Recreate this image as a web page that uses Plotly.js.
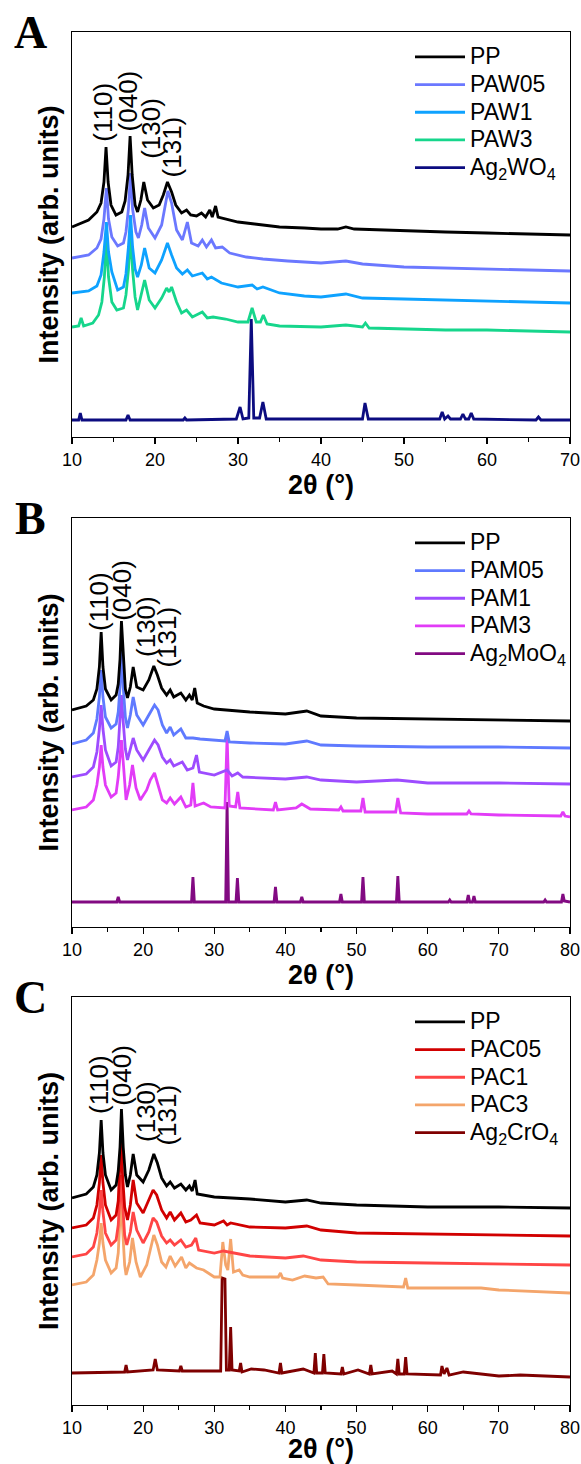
<!DOCTYPE html>
<html>
<head>
<meta charset="utf-8">
<script src="https://cdn.plot.ly/plotly-3.0.1.min.js"></script>
<style>html,body{margin:0;padding:0;background:#fff;}#chart{width:581px;height:1464px;}</style>
</head>
<body>
<div id="chart"></div>
<script>
// ---------------- Panel A (Ag2WO4 series), 2θ 10–70 ----------------
const A_PP_x = [10,12,13,13.5,13.85,14.1,14.35,14.7,15.3,16,16.4,16.75,17.0,17.25,17.6,17.9,18.3,18.65,19.1,19.8,20.5,21.0,21.5,22.0,22.5,23.2,23.8,24.3,25.0,25.6,26.1,26.6,26.9,27.3,27.6,28.5,30,32,35,38,40,42,43,44,47,50,55,60,65,70];
const A_PP_y = [210,217,225,234,255,290,255,232,222,225,236,262,301,262,232,225,237,255,237,229,232,242,255,245,232,224,227,222,221,224,220,227,220,231,220,218,215,213,210,209,208,208,210,208,207,206,205,204,203,202];
const A_PAW05_x = [10,12,13,13.5,13.85,14.15,14.4,14.8,15.5,16.2,16.5,16.8,17.05,17.3,17.7,18.0,18.4,18.75,19.2,20.0,20.8,21.55,22.0,22.6,23.3,23.9,24.4,25.2,25.7,26.2,26.8,27.3,28.1,29,31,33,36,40,43,45,50,55,60,65,70];
const A_PAW05_y = [179,182,189,198,218,249,218,200,191,194,205,228,264,228,205,199,212,229,209,199,212,246,234,207,197,215,194,191,197,190,197,189,190,184,180,178,176,174,176,173,170,169,168,167,166];
const A_PAW1_x = [10,12,13,13.5,13.85,14.15,14.4,14.8,15.5,16.2,16.5,16.8,17.05,17.3,17.6,17.9,18.35,18.75,19.3,20.0,20.8,21.5,22.0,22.6,23.3,23.9,24.5,25.7,26.3,26.8,28,30,31.7,32.3,33.0,35,38,40,43,45,50,55,60,70];
const A_PAW1_y = [144,146,151,162,185,215,185,165,147,150,163,190,222,190,168,160,172,189,169,164,177,194,182,169,163,167,161,164,158,160,154,150,152,148,150,144,141,140,143,139,138,137,136,134];
const A_PAW3_x = [10,10.8,11.1,11.4,12.5,13.2,13.6,13.9,14.15,14.4,14.8,15.4,16.2,16.5,16.8,17.05,17.3,17.6,17.9,18.35,18.75,19.3,20.0,20.8,21.4,21.7,22.0,22.6,23.2,23.8,24.5,25.7,26.3,27,28.5,30,31.2,31.7,32.2,32.7,33.05,33.5,35,40,43,45,45.35,45.8,50,55,60,65,70];
const A_PAW3_y = [110,111,119,111,114,122,135,160,197,160,135,127,129,142,167,204,167,140,127,142,157,137,129,139,149,145,150,135,124,127,120,125,119,120,118,115,115,129,115,115,122,113,111,110,112,110,114,109,108,107,107,106,105];
const A_AgW_x = [10,10.8,11.0,11.2,16.5,16.75,17.0,23.4,23.6,23.8,29.8,30.25,30.6,31.3,31.6,31.9,32.6,33.0,33.4,34,45.0,45.3,45.7,54.3,54.6,54.9,55.3,55.6,56.8,57.1,57.4,57.8,58.1,58.4,65.9,66.2,66.5,70];
const A_AgW_y = [17,17,24,17,17,22,17,17,19,17,18,30,18,19,118,19,19,35,18,18,18,34,18,18,25,18,21,18,18,23,18,18,24,18,17,20,17,17];

// ---------------- Panel B (Ag2MoO4 series), 2θ 10–80 ----------------
const B_PP_x = [10,12,13,13.5,13.85,14.1,14.35,14.7,15.5,16.2,16.5,16.75,16.95,17.2,17.5,17.8,18.2,18.6,19.1,20.0,20.8,21.5,22.0,22.6,23.3,23.8,24.3,25.3,26,26.5,26.9,27.25,27.6,28.5,30,35,40,43,45,50,60,70,80];
const B_PP_y = [217,221,227,238,260,295,260,238,227,232,243,268,306,268,238,229,240,260,240,237,247,261,252,239,232,237,230,234,227,232,227,239,224,221,218,215,213,216,211,209,208,207,206];
const B_PAM05_x = [10,12,13,13.5,13.85,14.1,14.35,14.7,15.5,16.2,16.5,16.75,16.95,17.2,17.5,17.8,18.2,18.6,19.1,20.0,20.8,21.6,22.1,22.7,23.3,23.8,24.3,25.3,26,27,28,30,31.5,31.8,32.1,35,40,43,45,50,60,70,80];
const B_PAM05_y = [183,187,194,208,230,257,230,210,199,203,215,240,279,240,210,199,212,230,212,202,212,222,217,202,194,200,192,198,189,189,188,187,186,196,185,184,183,186,182,181,180,180,179];
const B_PAM1_x = [10,12,13,13.5,13.85,14.1,14.35,14.7,15.5,16.2,16.5,16.75,16.95,17.2,17.5,17.8,18.2,18.6,19.1,20.0,20.8,21.6,22.1,22.7,23.3,23.8,24.3,25.5,26.2,27.0,27.5,27.9,30,31.8,32.5,33.3,34,40,43,45,50,55.7,60,70,80];
const B_PAM1_y = [150,153,160,175,198,222,198,177,161,165,180,205,232,205,178,167,179,189,177,167,177,187,182,170,164,167,161,165,157,159,172,155,152,157,151,154,150,148,150,147,145,147,144,144,143];
const B_PAM3_x = [10,12,13,13.5,13.85,14.1,14.35,14.7,15.5,16.2,16.5,16.75,16.95,17.2,17.6,18.1,18.5,19.0,19.6,20.5,21.0,21.6,22.1,22.7,23.3,23.8,24.4,25.3,26.0,26.7,27.0,27.3,28.5,29.5,31.5,31.8,32.1,33.0,33.3,33.6,38.3,38.6,38.9,41.5,42.3,43.5,47.5,47.8,48.1,50.6,50.9,51.2,55.5,55.8,56.2,60,65.5,65.8,66.1,70,78.7,79.0,79.3,80];
const B_PAM3_y = [117,120,127,142,160,182,160,142,130,134,150,170,187,165,127,142,162,139,127,137,147,154,142,127,124,129,123,130,120,122,144,121,124,120,119,190,121,120,135,119,117,125,117,119,123,118,117,120,116,116,129,115,115,129,114,113,113,116,113,112,111,115,111,110];
const B_AgMo_x = [10,16.3,16.5,16.7,26.8,27.0,27.2,31.6,31.8,32.0,33.05,33.25,33.45,38.4,38.6,38.8,42.1,42.3,42.5,47.6,47.8,48.0,50.7,50.9,51.1,55.6,55.8,56.0,62.9,63.1,63.3,65.5,65.7,65.9,66.3,66.5,66.7,76.3,76.5,76.7,78.8,79.0,79.2,80];
const B_AgMo_y = [25,25,30,25,25,50,25,25,125,25,25,49,25,25,40,25,25,30,25,25,33,25,25,50,25,25,51,25,25,27,25,25,32,25,25,31,25,25,27,25,25,33,26,25];

// ---------------- Panel C (Ag2CrO4 series), 2θ 10–80 ----------------
const C_PP_x = [10,12,13,13.5,13.85,14.1,14.35,14.7,15.5,16.2,16.5,16.75,16.95,17.2,17.5,17.8,18.2,18.6,19.1,20.0,20.8,21.5,22.0,22.6,23.3,23.8,24.4,25.3,26,26.5,26.9,27.3,27.6,28.5,30,35,40,43,45,50,60,70,80];
const C_PP_y = [207,211,218,230,252,285,252,230,215,220,234,258,296,258,230,218,230,251,230,223,235,251,242,227,219,223,217,221,215,219,214,225,211,210,208,206,203,205,202,200,198,198,197];
const C_PAC05_x = [10,12,13,13.5,13.85,14.1,14.35,14.7,15.5,16.2,16.5,16.7,16.9,17.1,17.4,17.8,18.2,18.6,19.1,20.0,20.8,21.4,21.9,22.6,23.3,23.8,24.4,25.3,26.0,26.7,27.5,28,30,31.3,31.8,32.3,35,40,43,45,50,60,70,80];
const C_PAC05_y = [177,180,187,200,222,250,222,200,185,190,204,230,268,230,198,185,200,225,202,192,205,215,210,195,187,193,185,192,183,185,190,182,180,184,180,182,178,177,179,175,172,171,170,169];
const C_PAC1_x = [10,12,13,13.5,13.85,14.1,14.35,14.7,15.5,16.2,16.5,16.7,16.9,17.1,17.4,17.7,18.2,18.6,19.1,20.0,20.8,21.4,21.9,22.6,23.3,23.8,24.4,25.3,26,26.8,27.4,27.8,30,31.3,35,40,42.5,45,50,60,70,80];
const C_PAC1_y = [148,151,158,172,193,215,193,172,160,165,180,203,230,203,170,160,173,193,175,162,173,187,183,169,162,165,160,165,158,160,167,155,152,154,149,147,149,145,143,142,141,140];
const C_PAC3_x = [10,12,13,13.5,13.85,14.1,14.35,14.7,15.5,16.2,16.5,16.7,16.9,17.1,17.4,17.6,18.1,18.5,19.0,19.6,20.5,21.0,21.5,22.0,22.6,23.2,23.8,24.5,25.4,26.0,26.5,27.5,28.5,30,30.8,31.2,31.6,31.9,32.3,32.7,33.5,34,35,39.0,39.3,39.6,41,42.7,44.3,45.3,46,50,55,56.6,56.9,57.2,60,67.5,70,80];
const C_PAC3_y = [120,123,130,145,162,182,162,145,132,137,152,178,210,178,140,130,143,167,143,128,140,155,170,160,143,138,149,139,148,137,142,137,135,128,128,163,140,135,166,133,135,130,128,128,132,127,125,129,127,128,121,120,118,118,127,117,117,117,115,112];
const C_AgCr_x = [10,17.4,17.6,17.8,21.4,21.7,22.0,25.1,25.3,25.5,30.9,31.1,31.5,31.7,32.1,32.3,32.5,33.5,33.7,33.9,35.2,37,39.1,39.3,39.5,42.5,44.0,44.2,44.4,45.2,45.4,45.6,47.8,48.0,48.2,50.2,51.8,52.0,52.2,55.0,55.6,55.8,56.0,56.7,56.9,57.1,61.8,62.0,62.3,62.7,63.0,65,70,73,80];
const C_AgCr_y = [32,33,40,33,35,46,35,34,39,34,34,127,126,35,35,78,35,34,42,33,36,35,32,42,32,36,32,52,32,32,51,32,31,38,31,35,31,40,31,34,31,46,31,31,48,31,30,39,31,37,30,33,29,30,28];

// Legend names and peak labels
const A_names = ['PP','PAW05','PAW1','PAW3','Ag<sub>2</sub>WO<sub>4</sub>'];
const B_names = ['PP','PAM05','PAM1','PAM3','Ag<sub>2</sub>MoO<sub>4</sub>'];
const C_names = ['PP','PAC05','PAC1','PAC3','Ag<sub>2</sub>CrO<sub>4</sub>'];
const peakLabels = ['(110)','(040)','(130)','(131)'];
const A_peakX = [13.7,16.8,19.5,22.1];
const A_peakY = [325,336,309,290];
const B_peakX = [13.8,17.0,20.4,23.3];
const B_peakY = [325,337,301,290];
const C_peakX = [13.8,17.0,20.4,23.3];
const C_peakY = [320,330,294,290];
const panelLetters = ['A','B','C'];
const xRanges = [[10,70],[10,80],[10,80]];
const yRanges = [[0,405],[0,409],[0,408]];

const A_colors = ['#000000','#6b78ff','#0ea2ff','#16d68c','#0c0c80'];
const B_colors = ['#000000','#5f7aff','#9d4cff','#e23cf7','#820a82'];
const C_colors = ['#000000','#d10000','#ff4545','#f4a56b','#7f0000'];

const FONT = 'Liberation Sans, Arial, sans-serif';
const panels = [
  {xs:[A_PP_x,A_PAW05_x,A_PAW1_x,A_PAW3_x,A_AgW_x], ys:[A_PP_y,A_PAW05_y,A_PAW1_y,A_PAW3_y,A_AgW_y], names:A_names, colors:A_colors, px:A_peakX, py:A_peakY},
  {xs:[B_PP_x,B_PAM05_x,B_PAM1_x,B_PAM3_x,B_AgMo_x], ys:[B_PP_y,B_PAM05_y,B_PAM1_y,B_PAM3_y,B_AgMo_y], names:B_names, colors:B_colors, px:B_peakX, py:B_peakY},
  {xs:[C_PP_x,C_PAC05_x,C_PAC1_x,C_PAC3_x,C_AgCr_x], ys:[C_PP_y,C_PAC05_y,C_PAC1_y,C_PAC3_y,C_AgCr_y], names:C_names, colors:C_colors, px:C_peakX, py:C_peakY}
];

const H = 1464, W = 581;
const tops = [32, 518, 997], bottoms = [437, 927, 1405];
const xDom = [72/W, 570/W];
const legendTops = [38, 524, 1003];

const traces = [];
const annotations = [];
const layout = {
  width: W, height: H,
  margin: {l:0, r:0, t:0, b:0},
  paper_bgcolor: '#fff', plot_bgcolor: '#fff',
  font: {family: FONT, color: '#000'},
  showlegend: true,
  annotations: annotations
};

panels.forEach((p, i) => {
  const sfx = i === 0 ? '' : String(i+1);
  const xa = 'x' + sfx, ya = 'y' + sfx, lg = 'legend' + sfx;
  for (let k = p.xs.length - 1; k >= 0; k--) {
    traces.push({
      type: 'scatter', mode: 'lines', x: p.xs[k], y: p.ys[k],
      name: '<span style="font-size:23px">' + p.names[k] + '</span>',
      xaxis: xa, yaxis: ya, legend: lg, legendrank: k + 1,
      line: {color: p.colors[k], width: 2.8}, hoverinfo: 'skip'
    });
  }
  layout['xaxis' + sfx] = {
    domain: xDom, anchor: ya, range: xRanges[i], tick0: 10, dtick: 10,
    ticks: 'outside', ticklen: 6, tickwidth: 1.2, tickcolor: '#000',
    minor: {ticks: 'outside', dtick: 5, tick0: 10, ticklen: 3.5, tickwidth: 1.2, tickcolor: '#000'},
    showline: true, mirror: true, linecolor: '#000', linewidth: 1.3,
    showgrid: false, zeroline: false,
    tickfont: {family: FONT, size: 18},
    title: {text: '<b>2θ (°)</b>', font: {family: FONT, size: 27}, standoff: 5}
  };
  layout['yaxis' + sfx] = {
    domain: [1 - bottoms[i]/H, 1 - tops[i]/H], anchor: xa, range: yRanges[i],
    showticklabels: false, ticks: '', showgrid: false, zeroline: false,
    showline: true, mirror: true, linecolor: '#000', linewidth: 1.3,
    title: {text: '<b>Intensity (arb. units)</b>', font: {family: FONT, size: 27}, standoff: 4}
  };
  layout[lg] = {
    x: 410/W, y: 1 - legendTops[i]/H, xanchor: 'left', yanchor: 'top',
    bgcolor: 'rgba(0,0,0,0)', borderwidth: 0, itemwidth: 50,
    font: {family: FONT, size: 19}, tracegroupgap: 0, traceorder: 'normal'
  };
  p.px.forEach((xv, j) => {
    annotations.push({
      xref: xa, yref: ya, x: xv, y: p.py[j], text: peakLabels[j], textangle: -90,
      showarrow: false, xanchor: 'center', yanchor: 'middle',
      font: {family: FONT, size: 26, color: '#000'}
    });
  });
  annotations.push({
    xref: 'paper', yref: 'paper', x: 30/W, y: 1 - tops[i]/H, text: panelLetters[i],
    showarrow: false, xanchor: 'center', yanchor: 'middle',
    font: {family: 'Liberation Serif, Times New Roman, serif', size: 46, weight: 'bold', color: '#000'}
  });
});

Plotly.newPlot('chart', traces, layout, {staticPlot: true, displayModeBar: false});
</script>
</body>
</html>
